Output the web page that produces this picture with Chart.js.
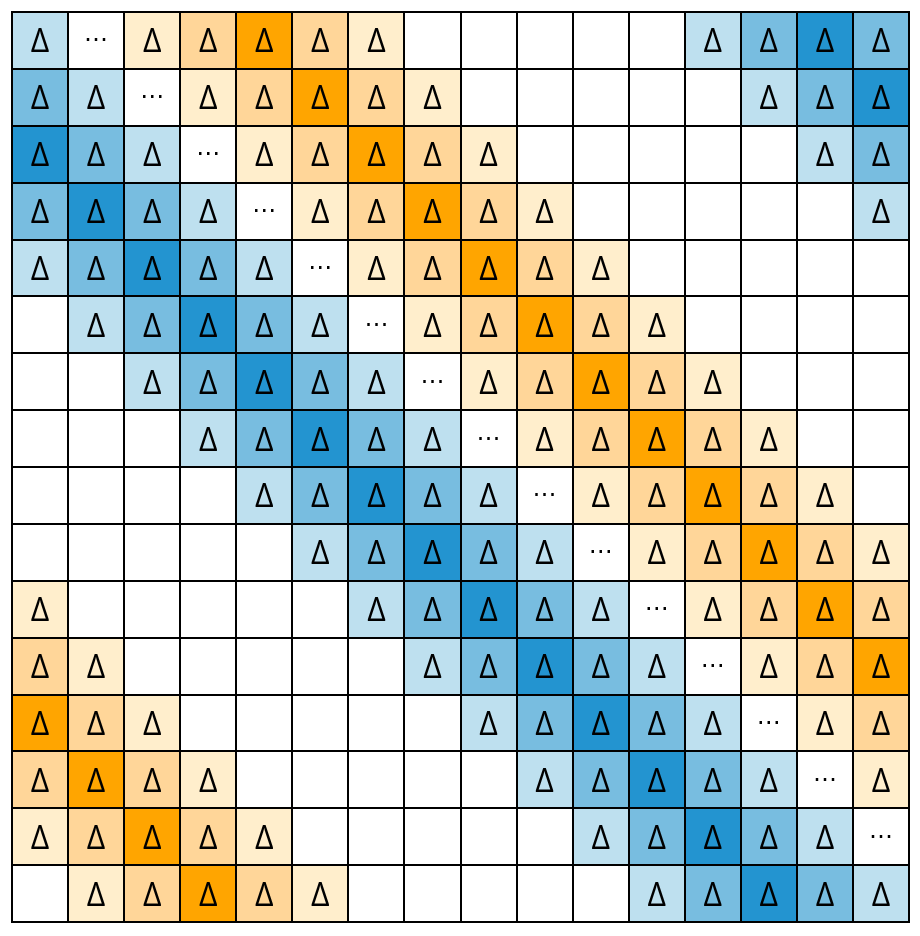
<!DOCTYPE html>
<html>
<head>
<meta charset="utf-8">
<script src="https://cdn.jsdelivr.net/npm/chart.js@4/dist/chart.umd.min.js"></script>
<style>
  html, body { margin: 0; padding: 0; background: #ffffff; }
  #wrap { width: 920px; height: 936px; }
</style>
</head>
<body>
<div id="wrap"><canvas id="grid"></canvas></div>
<script>
const n = null
// cell codes: null = empty, 0 = diagonal "⋯", 1..3 = orange level, -1..-3 = blue level
const columns = ['0', '1', '2', '3', '4', '5', '6', '7', '8', '9', '10', '11', '12', '13', '14', '15']
const row00 = [-1, 0, 1, 2, 3, 2, 1, n, n, n, n, n, -1, -2, -3, -2]
const row01 = [-2, -1, 0, 1, 2, 3, 2, 1, n, n, n, n, n, -1, -2, -3]
const row02 = [-3, -2, -1, 0, 1, 2, 3, 2, 1, n, n, n, n, n, -1, -2]
const row03 = [-2, -3, -2, -1, 0, 1, 2, 3, 2, 1, n, n, n, n, n, -1]
const row04 = [-1, -2, -3, -2, -1, 0, 1, 2, 3, 2, 1, n, n, n, n, n]
const row05 = [n, -1, -2, -3, -2, -1, 0, 1, 2, 3, 2, 1, n, n, n, n]
const row06 = [n, n, -1, -2, -3, -2, -1, 0, 1, 2, 3, 2, 1, n, n, n]
const row07 = [n, n, n, -1, -2, -3, -2, -1, 0, 1, 2, 3, 2, 1, n, n]
const row08 = [n, n, n, n, -1, -2, -3, -2, -1, 0, 1, 2, 3, 2, 1, n]
const row09 = [n, n, n, n, n, -1, -2, -3, -2, -1, 0, 1, 2, 3, 2, 1]
const row10 = [1, n, n, n, n, n, -1, -2, -3, -2, -1, 0, 1, 2, 3, 2]
const row11 = [2, 1, n, n, n, n, n, -1, -2, -3, -2, -1, 0, 1, 2, 3]
const row12 = [3, 2, 1, n, n, n, n, n, -1, -2, -3, -2, -1, 0, 1, 2]
const row13 = [2, 3, 2, 1, n, n, n, n, n, -1, -2, -3, -2, -1, 0, 1]
const row14 = [1, 2, 3, 2, 1, n, n, n, n, n, -1, -2, -3, -2, -1, 0]
const row15 = [n, 1, 2, 3, 2, 1, n, n, n, n, n, -1, -2, -3, -2, -1]
const rows = [row00, row01, row02, row03, row04, row05, row06, row07,
              row08, row09, row10, row11, row12, row13, row14, row15]

const palette = {
  '-3': '#2394d0',
  '-2': '#78bde0',
  '-1': '#bee0ef',
  '0': '#ffffff',
  '1': '#ffeecc',
  '2': '#ffd699',
  '3': '#ffa500'
}

function cellColor(v) {
  if (v === null) return '#ffffff'
  return palette[String(v)]
}

function cellText(v) {
  if (v === null) return ''
  return v === 0 ? '\u22EF' : '\u0394'
}

const cellLabels = {
  id: 'cellLabels',
  afterDatasetsDraw(chart) {
    const ctx = chart.ctx
    const a = chart.chartArea
    ctx.save()

    // cell borders, taken from the bar edges
    ctx.strokeStyle = '#000000'
    ctx.lineWidth = 2
    ctx.beginPath()
    chart.getDatasetMeta(0).data.forEach(bar => {
      const x = Math.round(bar.x - bar.width / 2)
      ctx.moveTo(x, a.top)
      ctx.lineTo(x, a.bottom)
    })
    chart.data.datasets.forEach((ds, i) => {
      const bar = chart.getDatasetMeta(i).data[0]
      const y = Math.round(Math.min(bar.y, bar.base))
      ctx.moveTo(a.left, y)
      ctx.lineTo(a.right, y)
    })
    ctx.stroke()
    ctx.strokeRect(Math.round(a.left), Math.round(a.top),
      Math.round(a.right) - Math.round(a.left), Math.round(a.bottom) - Math.round(a.top))

    ctx.textAlign = 'center'
    ctx.textBaseline = 'alphabetic'
    ctx.fillStyle = '#000000'
    chart.data.datasets.forEach((ds, i) => {
      const meta = chart.getDatasetMeta(i)
      meta.data.forEach((bar, j) => {
        const txt = cellText(rows[i][j])
        if (!txt) return
        ctx.font = rows[i][j] === 0 ? '24px "DejaVu Sans"' : '32px "Open Sans"'
        const m = ctx.measureText(txt)
        const cy = (bar.y + bar.base) / 2
        ctx.fillText(txt, bar.x, cy + (m.actualBoundingBoxAscent - m.actualBoundingBoxDescent) / 2)
      })
    })
    ctx.restore()
  }
}

new Chart(document.getElementById('grid'), {
  type: 'bar',
  data: {
    labels: columns,
    datasets: rows.map((r, i) => ({
      label: 'row ' + i,
      data: r.map(() => 1),
      backgroundColor: r.map(cellColor),
      borderWidth: 0,
      barPercentage: 1,
      categoryPercentage: 1
    }))
  },
  options: {
    responsive: true,
    maintainAspectRatio: false,
    animation: false,
    layout: { padding: { left: 12, top: 12, right: 11, bottom: 14 } },
    scales: {
      x: { stacked: true, display: false },
      y: { stacked: true, display: false, reverse: true, min: 0, max: 16 }
    },
    plugins: {
      legend: { display: false },
      tooltip: { enabled: false }
    }
  },
  plugins: [cellLabels]
})
</script>
</body>
</html>
